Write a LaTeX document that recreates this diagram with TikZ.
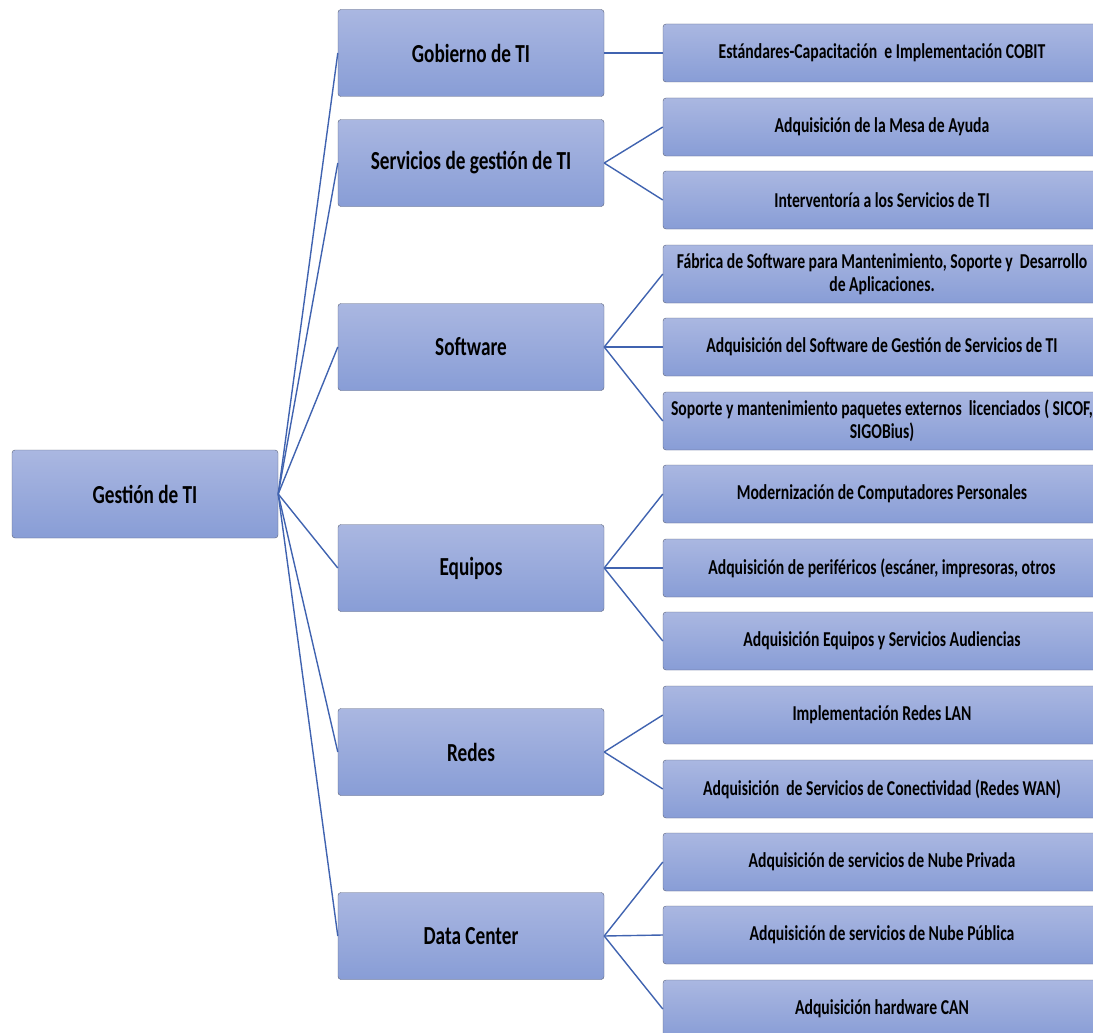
\documentclass[tikz,border=0pt]{standalone}
\usepackage{fontspec}
\setmainfont{Carlito}[FakeStretch=0.74]
\definecolor{boxtop}{RGB}{170,183,225}
\definecolor{boxbot}{RGB}{136,157,214}
\definecolor{boxline}{RGB}{90,98,122}
\definecolor{linkblue}{RGB}{64,99,176}
\tikzset{
  box/.style={draw=boxline,rounded corners=3pt,top color=boxtop,bottom color=boxbot,align=center,inner sep=2pt},
  area/.style={box,minimum width=266pt,minimum height=87pt,font=\fontsize{26}{28}\selectfont\bfseries},
  item/.style={box,minimum width=438pt,minimum height=58pt,font=\fontsize{21.2}{23}\selectfont\bfseries},
  link/.style={linkblue,line width=1.4pt}}
\begin{document}
\begin{tikzpicture}[x=1pt,y=-1pt]
\useasboundingbox (0,0) rectangle (1093,1033);
\node[area,minimum height=88pt] (gti) at (145,494) {Gestión de TI};
%areas
\node[area] (gob) at (471,53) {Gobierno de TI};
\node[area] (serv) at (471,163) {Servicios de gestión de TI};
\node[area] (soft) at (471,347) {Software};
\node[area] (equi) at (471,568) {Equipos};
\node[area] (red) at (471,752) {Redes};
\node[area] (dc) at (471,936) {Data Center};
%items
\node[item] (cobit) at (882,53) {Estándares-Capacitación\ \ e Implementación COBIT};
\node[item] (mesa) at (882,127) {Adquisición de la Mesa de Ayuda};
\node[item] (inter) at (882,200) {Interventoría a los Servicios de TI};
\node[item] (fab) at (882,274) {Fábrica de Software para Mantenimiento, Soporte y\ \ Desarrollo\\de Aplicaciones.};
\node[item] (sgs) at (882,347) {Adquisición del Software de Gestión de Servicios de TI};
\node[item] (sop) at (882,421) {Soporte y mantenimiento paquetes externos\ \ licenciados ( SICOF,\\SIGOBius)};
\node[item] (pc) at (882,494) {Modernización de Computadores Personales};
\node[item] (peri) at (882,568) {Adquisición de periféricos (escáner, impresoras, otros};
\node[item] (aud) at (882,641) {Adquisición Equipos y Servicios Audiencias};
\node[item] (lan) at (882,715) {Implementación Redes LAN};
\node[item] (wan) at (882,789) {Adquisición\ \ de Servicios de Conectividad (Redes WAN)};
\node[item] (priv) at (882,862) {Adquisición de servicios de Nube Privada};
\node[item] (pub) at (882,935) {Adquisición de servicios de Nube Pública};
\node[item] (can) at (882,1009) {Adquisición hardware CAN};
%links
\foreach \a in {gob,serv,soft,equi,red,dc} \draw[link] (gti.east) -- (\a.west);
\foreach \a/\b in {gob/cobit,serv/mesa,serv/inter,soft/fab,soft/sgs,soft/sop,equi/pc,equi/peri,equi/aud,red/lan,red/wan,dc/priv,dc/pub,dc/can}
  \draw[link] (\a.east) -- (\b.west);
\end{tikzpicture}
\end{document}
